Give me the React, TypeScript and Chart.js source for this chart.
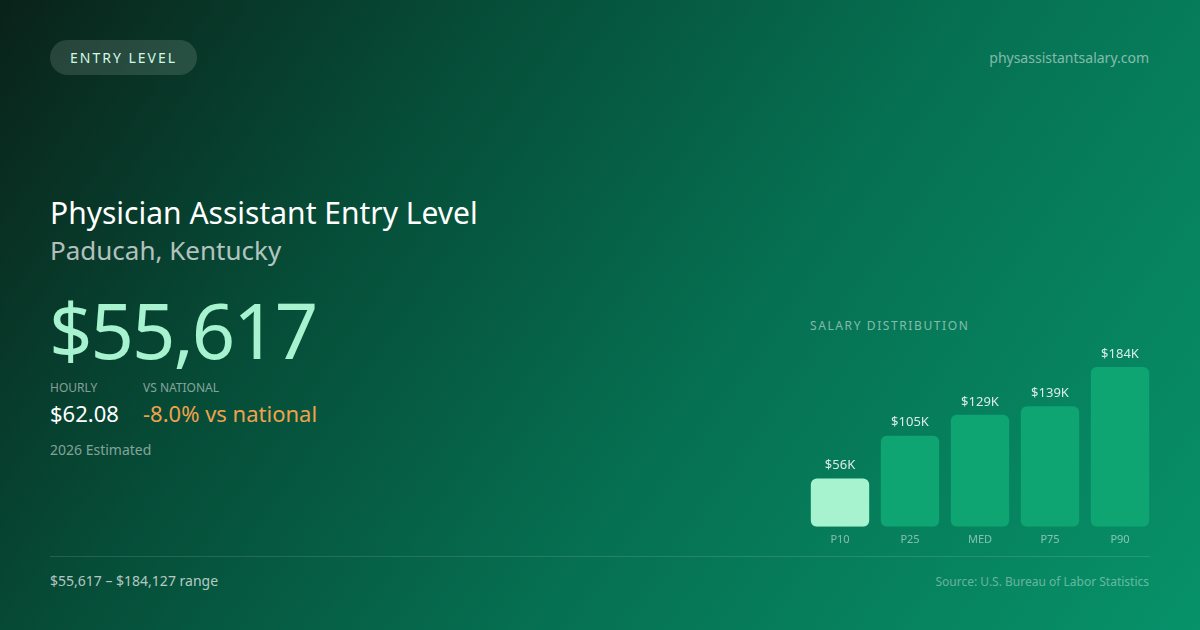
import { useEffect, useRef } from "react"
import { Chart, registerables } from "chart.js"

Chart.register(...registerables)

// salary percentiles, annual USD
const percentileLabels = ["P10", "P25", "MED", "P75", "P90"]
const salaryValues = [55617, 105000, 129000, 139000, 184127]
const valueLabels = ["$56K", "$105K", "$129K", "$139K", "$184K"]
const barColors = ["#a7f3d0", "#0ea572", "#0ea572", "#0ea572", "#0ea572"]

const FONT = "'Noto Sans', 'Open Sans', sans-serif"

// draws the "$105K" style labels above each bar
const valueLabelPlugin = {
  id: "valueLabels",
  afterDatasetsDraw(chart: Chart) {
    const { ctx } = chart
    const meta = chart.getDatasetMeta(0)
    ctx.save()
    ctx.font = `13px ${FONT}`
    ctx.fillStyle = "rgba(255,255,255,0.85)"
    ctx.textAlign = "center"
    ctx.textBaseline = "middle"
    meta.data.forEach((bar, i) => {
      ctx.fillText(valueLabels[i], bar.x, bar.y - 13)
    })
    ctx.restore()
  },
}

function SalaryBars() {
  const chartRef = useRef<HTMLCanvasElement>(null)
  const chartInstance = useRef<Chart | null>(null)

  useEffect(() => {
    if (!chartRef.current) return
    if (chartInstance.current) chartInstance.current.destroy()

    const ctx = chartRef.current.getContext("2d")
    if (!ctx) return

    chartInstance.current = new Chart(ctx, {
      type: "bar",
      data: {
        labels: percentileLabels,
        datasets: [
          {
            data: salaryValues,
            backgroundColor: barColors,
            borderRadius: 6,
            borderSkipped: false,
            barPercentage: 0.834,
            categoryPercentage: 1,
          },
        ],
      },
      options: {
        responsive: false,
        animation: false,
        layout: { padding: { top: 27, left: 0, right: 0, bottom: 0 } },
        plugins: {
          legend: { display: false },
          tooltip: { enabled: false },
        },
        scales: {
          y: { display: false, min: 0, max: 184127 },
          x: {
            grid: { display: false, drawTicks: false },
            border: { display: false },
            ticks: {
              color: "rgba(255,255,255,0.5)",
              padding: 6,
              font: { family: FONT, size: 11 },
            },
          },
        },
      },
      plugins: [valueLabelPlugin],
    })

    return () => {
      if (chartInstance.current) {
        chartInstance.current.destroy()
        chartInstance.current = null
      }
    }
  }, [])

  return <canvas ref={chartRef} width={350} height={212} style={{ width: 350, height: 212 }} />
}

export default function App() {
  useEffect(() => {
    document.body.style.margin = "0"
  }, [])

  const muted = "rgba(255,255,255,0.5)"

  return (
    <div
      style={{
        position: "fixed",
        left: 0,
        top: 0,
        width: 1200,
        height: 630,
        overflow: "hidden",
        fontFamily: FONT,
        color: "#fff",
        background: "linear-gradient(125deg, #0a2219 0%, #064d38 30%, #067152 60%, #07926a 100%)",
      }}
    >
      {/* badge */}
      <div
        style={{
          position: "absolute",
          left: 50,
          top: 40,
          height: 35,
          padding: "0 20px",
          borderRadius: 18,
          background: "rgba(255,255,255,0.13)",
          display: "flex",
          alignItems: "center",
          fontSize: 14,
          letterSpacing: 2,
          color: "#d1fae5",
        }}
      >
        ENTRY LEVEL
      </div>
      <div style={{ position: "absolute", right: 51, top: 48, fontSize: 14, color: muted }}>
        physassistantsalary.com
      </div>

      <div style={{ position: "absolute", left: 50, top: 194, fontSize: 30, lineHeight: "38px" }}>
        Physician Assistant Entry Level
      </div>
      <div
        style={{
          position: "absolute",
          left: 50,
          top: 233,
          fontSize: 26,
          lineHeight: "34px",
          color: "rgba(255,255,255,0.7)",
        }}
      >
        Paducah, Kentucky
      </div>

      <div
        style={{
          position: "absolute",
          left: 49,
          top: 282,
          fontSize: 76,
          lineHeight: "96px",
          letterSpacing: -2,
          color: "#a7f3d0",
        }}
      >
        $55,617
      </div>

      <div style={{ position: "absolute", left: 50, top: 379, fontSize: 12, color: muted }}>HOURLY</div>
      <div style={{ position: "absolute", left: 50, top: 398, fontSize: 22, lineHeight: "30px" }}>$62.08</div>
      <div style={{ position: "absolute", left: 143, top: 379, fontSize: 12, color: muted }}>VS NATIONAL</div>
      <div
        style={{
          position: "absolute",
          left: 143,
          top: 398,
          fontSize: 22,
          lineHeight: "30px",
          color: "#f0a24c",
        }}
      >
        -8.0% vs national
      </div>
      <div style={{ position: "absolute", left: 50, top: 440, fontSize: 14, lineHeight: "19px", color: muted }}>
        2026 Estimated
      </div>

      <div
        style={{
          position: "absolute",
          left: 810,
          top: 317,
          fontSize: 12,
          letterSpacing: 1.6,
          color: muted,
        }}
      >
        SALARY DISTRIBUTION
      </div>
      <div style={{ position: "absolute", left: 805, top: 340 }}>
        <SalaryBars />
      </div>

      <div
        style={{
          position: "absolute",
          left: 50,
          top: 556,
          width: 1100,
          height: 1,
          background: "rgba(255,255,255,0.12)",
        }}
      />
      <div
        style={{
          position: "absolute",
          left: 50,
          top: 571,
          fontSize: 14,
          lineHeight: "19px",
          color: "rgba(255,255,255,0.7)",
        }}
      >
        $55,617 – $184,127 range
      </div>
      <div
        style={{
          position: "absolute",
          right: 51,
          top: 573,
          fontSize: 12,
          color: "rgba(255,255,255,0.4)",
        }}
      >
        Source: U.S. Bureau of Labor Statistics
      </div>
    </div>
  )
}
